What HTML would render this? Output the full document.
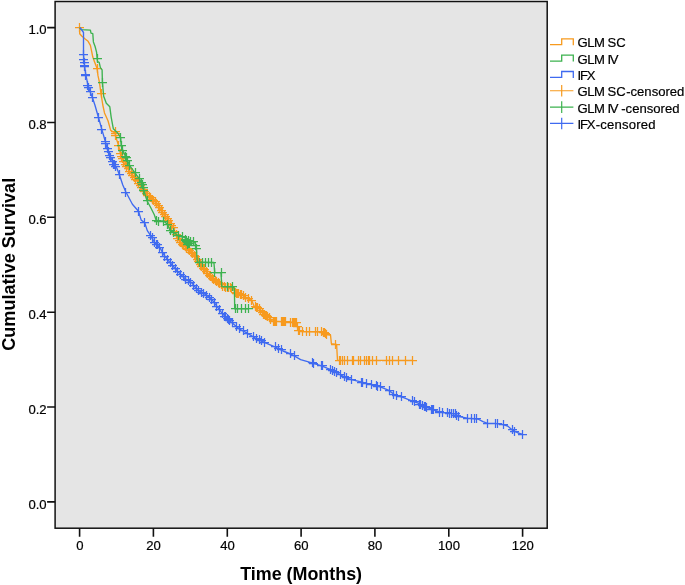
<!DOCTYPE html>
<html><head><meta charset="utf-8"><title>Kaplan-Meier</title>
<style>
html,body{margin:0;padding:0;background:#fff;}
svg{display:block;will-change:transform;}
.t{font-family:"Liberation Sans",sans-serif;font-size:13.1px;fill:#000;stroke:#000;stroke-width:0.2px;}
.b{font-family:"Liberation Sans",sans-serif;font-size:17.9px;font-weight:bold;fill:#000;}
</style></head><body>
<svg width="685" height="585" viewBox="0 0 685 585">
<rect width="685" height="585" fill="#ffffff"/>
<rect x="55.1" y="1.5" width="492.1" height="526.7" fill="#E5E5E5" stroke="#111111" stroke-width="1.5"/>
<path d="M47.1,501.9H55.1M47.1,407.0H55.1M47.1,312.2H55.1M47.1,217.3H55.1M47.1,122.5H55.1M47.1,27.6H55.1M79.6,528.2V536.7M153.4,528.2V536.7M227.3,528.2V536.7M301.1,528.2V536.7M374.9,528.2V536.7M448.8,528.2V536.7M522.6,528.2V536.7" stroke="#111111" stroke-width="1.6" fill="none"/>
<text x="46.6" y="508.5" text-anchor="end" class="t">0.0</text>
<text x="46.6" y="413.6" text-anchor="end" class="t">0.2</text>
<text x="46.6" y="318.8" text-anchor="end" class="t">0.4</text>
<text x="46.6" y="223.9" text-anchor="end" class="t">0.6</text>
<text x="46.6" y="129.1" text-anchor="end" class="t">0.8</text>
<text x="46.6" y="34.2" text-anchor="end" class="t">1.0</text>
<text x="79.8" y="550" text-anchor="middle" class="t">0</text>
<text x="153.6" y="550" text-anchor="middle" class="t">20</text>
<text x="227.5" y="550" text-anchor="middle" class="t">40</text>
<text x="301.3" y="550" text-anchor="middle" class="t">60</text>
<text x="375.1" y="550" text-anchor="middle" class="t">80</text>
<text x="449.0" y="550" text-anchor="middle" class="t">100</text>
<text x="522.8" y="550" text-anchor="middle" class="t">120</text>
<path d="M79.7,27.6 L79.7,33.7 L81.7,36.0 L85.2,39.0 L88.1,41.3 L90.4,45.4 L91.6,51.2 L92.8,57.1 L94.5,61.7 L96.3,66.4 L97.1,68.7 L98.0,75.7 L99.4,82.2 L101.0,93.7 L102.8,105.0 L104.5,112.9 L108.0,120.8 L110.7,130.4 L115.0,133.0 L116.8,140.0 L118.5,145.3 L121.2,156.7 L124.5,164.0 L130.7,172.8 L136.8,180.7 L142.9,189.4 L147.3,195.5 L154.3,200.8 L159.6,207.8 L163.9,214.8 L169.2,221.8 L173.6,228.8 L177.1,237.6 L182.3,244.6 L189.4,250.7 L195.5,256.8 L200.8,265.5 L206.1,271.7 L212.2,278.7 L218.3,282.2 L222.7,286.6 L232.3,288.3 L235.8,292.9 L242.8,294.9 L246.3,298.4 L251.5,300.1 L254.2,306.3 L259.4,308.9 L263.8,314.2 L269.0,317.7 L272.6,321.2 L290.0,322.0 L297.0,322.9 L297.9,329.9 L302.3,331.7 L323.4,332.0 L326.9,334.5 L330.5,335.0 L331.4,343.7 L336.6,344.5 L337.5,360.3 L412.0,360.3" fill="none" stroke="#F79A1E" stroke-width="1.35" stroke-linejoin="round"/>
<path d="M75.0,27.5h9.0M79.5,23.0v9.0M93.0,68.5h9.0M97.5,64.0v9.0M97.0,93.5h9.0M101.5,89.0v9.0M111.0,131.5h9.0M115.5,127.0v9.0M111.0,133.5h9.0M115.5,129.0v9.0M111.0,135.5h9.0M115.5,131.0v9.0M114.0,145.5h9.0M118.5,141.0v9.0M117.0,156.5h9.0M121.5,152.0v9.0M116.0,153.5h9.0M120.5,149.0v9.0M118.0,158.5h9.0M122.5,154.0v9.0M119.0,161.5h9.0M123.5,157.0v9.0M121.0,164.5h9.0M125.5,160.0v9.0M122.0,166.5h9.0M126.5,162.0v9.0M124.0,168.5h9.0M128.5,164.0v9.0M125.0,171.5h9.0M129.5,167.0v9.0M127.0,173.5h9.0M131.5,169.0v9.0M128.0,175.5h9.0M132.5,171.0v9.0M130.0,177.5h9.0M134.5,173.0v9.0M131.0,179.5h9.0M135.5,175.0v9.0M133.0,180.5h9.0M137.5,176.0v9.0M134.0,183.5h9.0M138.5,179.0v9.0M136.0,185.5h9.0M140.5,181.0v9.0M137.0,187.5h9.0M141.5,183.0v9.0M139.0,189.5h9.0M143.5,185.0v9.0M140.0,191.5h9.0M144.5,187.0v9.0M142.0,193.5h9.0M146.5,189.0v9.0M143.0,195.5h9.0M147.5,191.0v9.0M145.0,196.5h9.0M149.5,192.0v9.0M146.0,197.5h9.0M150.5,193.0v9.0M148.0,199.5h9.0M152.5,195.0v9.0M149.0,200.5h9.0M153.5,196.0v9.0M151.0,201.5h9.0M155.5,197.0v9.0M152.0,203.5h9.0M156.5,199.0v9.0M154.0,205.5h9.0M158.5,201.0v9.0M155.0,207.5h9.0M159.5,203.0v9.0M157.0,210.5h9.0M161.5,206.0v9.0M158.0,212.5h9.0M162.5,208.0v9.0M160.0,214.5h9.0M164.5,210.0v9.0M161.0,216.5h9.0M165.5,212.0v9.0M163.0,218.5h9.0M167.5,214.0v9.0M164.0,220.5h9.0M168.5,216.0v9.0M166.0,223.5h9.0M170.5,219.0v9.0M167.0,225.5h9.0M171.5,221.0v9.0M169.0,227.5h9.0M173.5,223.0v9.0M170.0,231.5h9.0M174.5,227.0v9.0M172.0,234.5h9.0M176.5,230.0v9.0M173.0,238.5h9.0M177.5,234.0v9.0M175.0,240.5h9.0M179.5,236.0v9.0M176.0,242.5h9.0M180.5,238.0v9.0M178.0,244.5h9.0M182.5,240.0v9.0M179.0,245.5h9.0M183.5,241.0v9.0M181.0,246.5h9.0M185.5,242.0v9.0M182.0,248.5h9.0M186.5,244.0v9.0M184.0,249.5h9.0M188.5,245.0v9.0M185.0,250.5h9.0M189.5,246.0v9.0M187.0,252.5h9.0M191.5,248.0v9.0M188.0,253.5h9.0M192.5,249.0v9.0M190.0,255.5h9.0M194.5,251.0v9.0M191.0,256.5h9.0M195.5,252.0v9.0M193.0,259.5h9.0M197.5,255.0v9.0M194.0,261.5h9.0M198.5,257.0v9.0M196.0,264.5h9.0M200.5,260.0v9.0M197.0,266.5h9.0M201.5,262.0v9.0M199.0,268.5h9.0M203.5,264.0v9.0M200.0,269.5h9.0M204.5,265.0v9.0M202.0,271.5h9.0M206.5,267.0v9.0M203.0,273.5h9.0M207.5,269.0v9.0M205.0,275.5h9.0M209.5,271.0v9.0M206.0,276.5h9.0M210.5,272.0v9.0M208.0,278.5h9.0M212.5,274.0v9.0M209.0,279.5h9.0M213.5,275.0v9.0M211.0,280.5h9.0M215.5,276.0v9.0M212.0,281.5h9.0M216.5,277.0v9.0M214.0,282.5h9.0M218.5,278.0v9.0M215.0,283.5h9.0M219.5,279.0v9.0M217.0,284.5h9.0M221.5,280.0v9.0M218.0,286.5h9.0M222.5,282.0v9.0M220.0,286.5h9.0M224.5,282.0v9.0M221.0,287.5h9.0M225.5,283.0v9.0M223.0,287.5h9.0M227.5,283.0v9.0M224.0,287.5h9.0M228.5,283.0v9.0M226.0,287.5h9.0M230.5,283.0v9.0M227.0,288.5h9.0M231.5,284.0v9.0M288.0,322.5h9.0M292.5,318.0v9.0M289.0,322.5h9.0M293.5,318.0v9.0M290.0,322.5h9.0M294.5,318.0v9.0M291.0,322.5h9.0M295.5,318.0v9.0M292.0,322.5h9.0M296.5,318.0v9.0M294.0,330.5h9.0M298.5,326.0v9.0M320.0,332.5h9.0M324.5,328.0v9.0M321.0,333.5h9.0M325.5,329.0v9.0M322.0,334.5h9.0M326.5,330.0v9.0M269.0,321.5h9.0M273.5,317.0v9.0M270.0,321.5h9.0M274.5,317.0v9.0M278.0,321.5h9.0M282.5,317.0v9.0M280.0,321.5h9.0M284.5,317.0v9.0M260.0,314.5h9.0M264.5,310.0v9.0M261.0,315.5h9.0M265.5,311.0v9.0M253.0,307.5h9.0M257.5,303.0v9.0M256.0,310.5h9.0M260.5,306.0v9.0M263.0,316.5h9.0M267.5,312.0v9.0M266.0,319.5h9.0M270.5,315.0v9.0M232.0,293.5h9.0M236.5,289.0v9.0M234.0,293.5h9.0M238.5,289.0v9.0M239.0,295.5h9.0M243.5,291.0v9.0M241.0,297.5h9.0M245.5,293.0v9.0M231.0,292.5h9.0M235.5,288.0v9.0M233.0,293.5h9.0M237.5,289.0v9.0M236.0,294.5h9.0M240.5,290.0v9.0M237.0,294.5h9.0M241.5,290.0v9.0M244.0,298.5h9.0M248.5,294.0v9.0M247.0,300.5h9.0M251.5,296.0v9.0M251.0,306.5h9.0M255.5,302.0v9.0M252.0,307.5h9.0M256.5,303.0v9.0M255.0,308.5h9.0M259.5,304.0v9.0M258.0,312.5h9.0M262.5,308.0v9.0M259.0,314.5h9.0M263.5,310.0v9.0M262.0,315.5h9.0M266.5,311.0v9.0M265.0,317.5h9.0M269.5,313.0v9.0M269.0,321.5h9.0M273.5,317.0v9.0M271.0,321.5h9.0M275.5,317.0v9.0M272.0,321.5h9.0M276.5,317.0v9.0M277.0,321.5h9.0M281.5,317.0v9.0M279.0,321.5h9.0M283.5,317.0v9.0M281.0,321.5h9.0M285.5,317.0v9.0M286.0,322.5h9.0M290.5,318.0v9.0M290.0,322.5h9.0M294.5,318.0v9.0M292.0,322.5h9.0M296.5,318.0v9.0M293.0,326.5h9.0M297.5,322.0v9.0M295.0,330.5h9.0M299.5,326.0v9.0M298.0,331.5h9.0M302.5,327.0v9.0M302.0,331.5h9.0M306.5,327.0v9.0M305.0,331.5h9.0M309.5,327.0v9.0M311.0,331.5h9.0M315.5,327.0v9.0M313.0,331.5h9.0M317.5,327.0v9.0M317.0,331.5h9.0M321.5,327.0v9.0M319.0,332.5h9.0M323.5,328.0v9.0M321.0,333.5h9.0M325.5,329.0v9.0M331.0,344.5h9.0M335.5,340.0v9.0M335.0,360.5h9.0M339.5,356.0v9.0M336.0,360.5h9.0M340.5,356.0v9.0M338.0,360.5h9.0M342.5,356.0v9.0M340.0,360.5h9.0M344.5,356.0v9.0M343.0,360.5h9.0M347.5,356.0v9.0M348.0,360.5h9.0M352.5,356.0v9.0M349.0,360.5h9.0M353.5,356.0v9.0M354.0,360.5h9.0M358.5,356.0v9.0M356.0,360.5h9.0M360.5,356.0v9.0M360.0,360.5h9.0M364.5,356.0v9.0M362.0,360.5h9.0M366.5,356.0v9.0M364.0,360.5h9.0M368.5,356.0v9.0M365.0,360.5h9.0M369.5,356.0v9.0M368.0,360.5h9.0M372.5,356.0v9.0M372.0,360.5h9.0M376.5,356.0v9.0M382.0,360.5h9.0M386.5,356.0v9.0M385.0,360.5h9.0M389.5,356.0v9.0M388.0,360.5h9.0M392.5,356.0v9.0M394.0,360.5h9.0M398.5,356.0v9.0M401.0,360.5h9.0M405.5,356.0v9.0M408.0,360.5h9.0M412.5,356.0v9.0" fill="none" stroke="#F79A1E" stroke-width="1.25"/>
<path d="M79.7,27.6 L81.1,29.6 L90.4,30.2 L91.0,33.1 L92.8,33.7 L93.4,41.9 L95.1,46.5 L96.6,52.4 L97.1,58.0 L97.5,61.7 L99.2,62.3 L100.4,67.6 L102.1,69.9 L102.4,82.3 L103.7,96.3 L106.3,103.3 L109.8,106.8 L111.2,117.3 L113.3,128.7 L117.7,133.0 L120.6,137.4 L121.2,145.3 L122.9,150.6 L125.6,156.7 L127.3,160.2 L129.9,166.0 L135.0,172.8 L139.4,178.9 L142.0,184.2 L143.8,190.3 L147.0,200.8 L150.8,207.8 L154.3,214.8 L156.1,220.1 L158.7,220.6 L163.9,221.0 L167.5,224.5 L170.1,230.6 L173.6,232.3 L178.0,235.8 L185.0,237.5 L186.8,241.9 L194.7,241.9 L196.4,248.9 L197.3,262.0 L213.9,262.5 L214.8,272.6 L221.0,272.6 L221.8,286.6 L232.3,286.9 L234.4,288.3 L234.7,308.7 L249.0,308.7" fill="none" stroke="#3DB24F" stroke-width="1.35" stroke-linejoin="round"/>
<path d="M181.0,240.5h9.0M185.5,236.0v9.0M182.0,241.5h9.0M186.5,237.0v9.0M183.0,242.5h9.0M187.5,238.0v9.0M184.0,243.5h9.0M188.5,239.0v9.0M185.0,243.5h9.0M189.5,239.0v9.0M183.0,244.5h9.0M187.5,240.0v9.0M184.0,240.5h9.0M188.5,236.0v9.0M93.0,58.5h9.0M97.5,54.0v9.0M98.0,82.5h9.0M102.5,78.0v9.0M116.0,137.5h9.0M120.5,133.0v9.0M117.0,145.5h9.0M121.5,141.0v9.0M118.0,150.5h9.0M122.5,146.0v9.0M121.0,156.5h9.0M125.5,152.0v9.0M122.0,157.5h9.0M126.5,153.0v9.0M123.0,160.5h9.0M127.5,156.0v9.0M125.0,165.5h9.0M129.5,161.0v9.0M131.0,172.5h9.0M135.5,168.0v9.0M135.0,178.5h9.0M139.5,174.0v9.0M137.0,182.5h9.0M141.5,178.0v9.0M138.0,184.5h9.0M142.5,180.0v9.0M139.0,187.5h9.0M143.5,183.0v9.0M139.0,190.5h9.0M143.5,186.0v9.0M143.0,200.5h9.0M147.5,196.0v9.0M152.0,220.5h9.0M156.5,216.0v9.0M154.0,221.5h9.0M158.5,217.0v9.0M159.0,221.5h9.0M163.5,217.0v9.0M163.0,224.5h9.0M167.5,220.0v9.0M166.0,230.5h9.0M170.5,226.0v9.0M169.0,232.5h9.0M173.5,228.0v9.0M174.0,235.5h9.0M178.5,231.0v9.0M178.0,236.5h9.0M182.5,232.0v9.0M181.0,239.5h9.0M185.5,235.0v9.0M182.0,241.5h9.0M186.5,237.0v9.0M184.0,241.5h9.0M188.5,237.0v9.0M186.0,241.5h9.0M190.5,237.0v9.0M189.0,241.5h9.0M193.5,237.0v9.0M191.0,245.5h9.0M195.5,241.0v9.0M192.0,248.5h9.0M196.5,244.0v9.0M195.0,262.5h9.0M199.5,258.0v9.0M198.0,262.5h9.0M202.5,258.0v9.0M201.0,262.5h9.0M205.5,258.0v9.0M204.0,262.5h9.0M208.5,258.0v9.0M207.0,262.5h9.0M211.5,258.0v9.0M210.0,272.5h9.0M214.5,268.0v9.0M217.0,272.5h9.0M221.5,268.0v9.0M223.0,286.5h9.0M227.5,282.0v9.0M228.0,286.5h9.0M232.5,282.0v9.0M231.0,308.5h9.0M235.5,304.0v9.0M233.0,308.5h9.0M237.5,304.0v9.0M237.0,308.5h9.0M241.5,304.0v9.0M241.0,308.5h9.0M245.5,304.0v9.0M244.0,308.5h9.0M248.5,304.0v9.0" fill="none" stroke="#3DB24F" stroke-width="1.25"/>
<path d="M79.7,27.6 L81.1,29.0 L83.5,32.5 L83.5,54.7 L84.6,66.4 L85.8,74.6 L87.5,82.8 L87.9,85.8 L88.8,87.5 L90.2,91.9 L92.3,97.2 L94.9,105.0 L98.4,117.3 L101.9,129.6 L105.4,141.8 L107.2,148.8 L109.8,155.8 L112.4,161.1 L114.2,164.6 L116.8,168.1 L119.3,174.5 L122.8,185.0 L125.9,192.0 L132.4,204.3 L138.5,211.3 L141.2,220.1 L144.7,222.7 L147.3,230.6 L150.8,235.8 L154.3,242.0 L159.6,247.2 L164.0,255.0 L171.0,263.8 L178.0,271.7 L185.0,278.7 L192.0,283.0 L197.3,290.0 L204.3,293.6 L211.3,298.8 L216.6,305.8 L221.8,312.9 L227.1,318.5 L232.3,322.9 L239.3,329.0 L246.3,332.6 L255.0,337.8 L263.8,342.2 L276.0,347.4 L283.0,351.0 L291.8,354.5 L300.6,359.7 L312.8,363.2 L321.6,365.8 L327.0,368.2 L334.0,370.8 L341.0,375.2 L346.3,377.8 L351.5,379.6 L362.0,382.2 L372.6,384.8 L379.6,386.6 L388.3,390.1 L395.3,395.3 L402.3,397.1 L411.1,400.6 L418.1,403.2 L425.3,406.8 L432.3,409.4 L439.3,412.0 L446.3,412.9 L455.0,413.8 L458.5,416.4 L467.3,418.2 L477.8,419.0 L483.0,421.7 L487.5,423.4 L495.3,423.4 L502.3,424.3 L507.6,426.0 L512.9,430.4 L518.1,433.0 L522.8,434.3" fill="none" stroke="#3F6AF0" stroke-width="1.35" stroke-linejoin="round"/>
<path d="M79.0,54.5h9.0M83.5,50.0v9.0M79.0,59.5h9.0M83.5,55.0v9.0M80.0,62.5h9.0M84.5,58.0v9.0M80.0,65.5h9.0M84.5,61.0v9.0M80.0,66.5h9.0M84.5,62.0v9.0M81.0,75.5h9.0M85.5,71.0v9.0M81.0,74.5h9.0M85.5,70.0v9.0M83.0,85.5h9.0M87.5,81.0v9.0M84.0,87.5h9.0M88.5,83.0v9.0M86.0,91.5h9.0M90.5,87.0v9.0M88.0,97.5h9.0M92.5,93.0v9.0M94.0,117.5h9.0M98.5,113.0v9.0M97.0,129.5h9.0M101.5,125.0v9.0M101.0,141.5h9.0M105.5,137.0v9.0M101.0,143.5h9.0M105.5,139.0v9.0M103.0,148.5h9.0M107.5,144.0v9.0M104.0,151.5h9.0M108.5,147.0v9.0M105.0,155.5h9.0M109.5,151.0v9.0M106.0,157.5h9.0M110.5,153.0v9.0M108.0,161.5h9.0M112.5,157.0v9.0M109.0,164.5h9.0M113.5,160.0v9.0M110.0,164.5h9.0M114.5,160.0v9.0M111.0,166.5h9.0M115.5,162.0v9.0M115.0,174.5h9.0M119.5,170.0v9.0M121.0,192.5h9.0M125.5,188.0v9.0M134.0,211.5h9.0M138.5,207.0v9.0M140.0,222.5h9.0M144.5,218.0v9.0M146.0,235.5h9.0M150.5,231.0v9.0M150.0,242.5h9.0M154.5,238.0v9.0M152.0,244.5h9.0M156.5,240.0v9.0M148.0,237.5h9.0M152.5,233.0v9.0M150.0,242.5h9.0M154.5,238.0v9.0M153.0,244.5h9.0M157.5,240.0v9.0M155.0,247.5h9.0M159.5,243.0v9.0M158.0,252.5h9.0M162.5,248.0v9.0M160.0,256.5h9.0M164.5,252.0v9.0M163.0,259.5h9.0M167.5,255.0v9.0M166.0,262.5h9.0M170.5,258.0v9.0M168.0,265.5h9.0M172.5,261.0v9.0M171.0,268.5h9.0M175.5,264.0v9.0M173.0,271.5h9.0M177.5,267.0v9.0M176.0,274.5h9.0M180.5,270.0v9.0M179.0,276.5h9.0M183.5,272.0v9.0M181.0,279.5h9.0M185.5,275.0v9.0M184.0,280.5h9.0M188.5,276.0v9.0M186.0,282.5h9.0M190.5,278.0v9.0M189.0,285.5h9.0M193.5,281.0v9.0M192.0,288.5h9.0M196.5,284.0v9.0M194.0,290.5h9.0M198.5,286.0v9.0M197.0,292.5h9.0M201.5,288.0v9.0M199.0,293.5h9.0M203.5,289.0v9.0M202.0,295.5h9.0M206.5,291.0v9.0M205.0,297.5h9.0M209.5,293.0v9.0M207.0,299.5h9.0M211.5,295.0v9.0M210.0,302.5h9.0M214.5,298.0v9.0M212.0,306.5h9.0M216.5,302.0v9.0M215.0,309.5h9.0M219.5,305.0v9.0M218.0,313.5h9.0M222.5,309.0v9.0M220.0,316.5h9.0M224.5,312.0v9.0M223.0,318.5h9.0M227.5,314.0v9.0M225.0,320.5h9.0M229.5,316.0v9.0M218.0,313.5h9.0M222.5,309.0v9.0M221.0,316.5h9.0M225.5,312.0v9.0M224.0,319.5h9.0M228.5,315.0v9.0M228.0,322.5h9.0M232.5,318.0v9.0M232.0,326.5h9.0M236.5,322.0v9.0M235.0,328.5h9.0M239.5,324.0v9.0M239.0,330.5h9.0M243.5,326.0v9.0M243.0,333.5h9.0M247.5,329.0v9.0M249.0,336.5h9.0M253.5,332.0v9.0M252.0,338.5h9.0M256.5,334.0v9.0M255.0,339.5h9.0M259.5,335.0v9.0M257.0,340.5h9.0M261.5,336.0v9.0M260.0,342.5h9.0M264.5,338.0v9.0M271.0,346.5h9.0M275.5,342.0v9.0M274.0,348.5h9.0M278.5,344.0v9.0M277.0,349.5h9.0M281.5,345.0v9.0M286.0,353.5h9.0M290.5,349.0v9.0M290.0,355.5h9.0M294.5,351.0v9.0M308.0,362.5h9.0M312.5,358.0v9.0M309.0,363.5h9.0M313.5,359.0v9.0M318.0,365.5h9.0M322.5,361.0v9.0M328.0,370.5h9.0M332.5,366.0v9.0M332.0,372.5h9.0M336.5,368.0v9.0M336.0,374.5h9.0M340.5,370.0v9.0M317.0,365.5h9.0M321.5,361.0v9.0M326.0,369.5h9.0M330.5,365.0v9.0M330.0,371.5h9.0M334.5,367.0v9.0M340.0,376.5h9.0M344.5,372.0v9.0M342.0,377.5h9.0M346.5,373.0v9.0M347.0,379.5h9.0M351.5,375.0v9.0M357.0,382.5h9.0M361.5,378.0v9.0M358.0,382.5h9.0M362.5,378.0v9.0M362.0,383.5h9.0M366.5,379.0v9.0M367.0,384.5h9.0M371.5,380.0v9.0M372.0,385.5h9.0M376.5,381.0v9.0M373.0,386.5h9.0M377.5,382.0v9.0M376.0,386.5h9.0M380.5,382.0v9.0M385.0,390.5h9.0M389.5,386.0v9.0M389.0,394.5h9.0M393.5,390.0v9.0M392.0,395.5h9.0M396.5,391.0v9.0M397.0,396.5h9.0M401.5,392.0v9.0M408.0,400.5h9.0M412.5,396.0v9.0M410.0,401.5h9.0M414.5,397.0v9.0M415.0,404.5h9.0M419.5,400.0v9.0M418.0,405.5h9.0M422.5,401.0v9.0M421.0,406.5h9.0M425.5,402.0v9.0M428.0,409.5h9.0M432.5,405.0v9.0M429.0,409.5h9.0M433.5,405.0v9.0M435.0,411.5h9.0M439.5,407.0v9.0M416.0,404.5h9.0M420.5,400.0v9.0M420.0,406.5h9.0M424.5,402.0v9.0M422.0,407.5h9.0M426.5,403.0v9.0M427.0,409.5h9.0M431.5,405.0v9.0M429.0,409.5h9.0M433.5,405.0v9.0M435.0,412.5h9.0M439.5,408.0v9.0M438.0,412.5h9.0M442.5,408.0v9.0M443.0,412.5h9.0M447.5,408.0v9.0M445.0,413.5h9.0M449.5,409.0v9.0M447.0,413.5h9.0M451.5,409.0v9.0M449.0,413.5h9.0M453.5,409.0v9.0M451.0,413.5h9.0M455.5,409.0v9.0M452.0,415.5h9.0M456.5,411.0v9.0M454.0,416.5h9.0M458.5,412.0v9.0M463.0,418.5h9.0M467.5,414.0v9.0M467.0,418.5h9.0M471.5,414.0v9.0M470.0,418.5h9.0M474.5,414.0v9.0M472.0,418.5h9.0M476.5,414.0v9.0M483.0,423.5h9.0M487.5,419.0v9.0M491.0,423.5h9.0M495.5,419.0v9.0M493.0,423.5h9.0M497.5,419.0v9.0M499.0,424.5h9.0M503.5,420.0v9.0M508.0,429.5h9.0M512.5,425.0v9.0M510.0,431.5h9.0M514.5,427.0v9.0M518.0,434.5h9.0M522.5,430.0v9.0" fill="none" stroke="#3F6AF0" stroke-width="1.25"/>
<path d="M550,44.70H561.7V38.80H573.3V45.20" fill="none" stroke="#F79A1E" stroke-width="1.3"/>
<text x="577.6" y="47.40" class="t" style="word-spacing:-0.55px"><tspan style="letter-spacing:-0.5px">GLM</tspan> SC</text>
<path d="M550,61.05H561.7V55.15H573.3V61.55" fill="none" stroke="#3DB24F" stroke-width="1.3"/>
<text x="577.6" y="63.75" class="t" style="word-spacing:-0.55px"><tspan style="letter-spacing:-0.5px">GLM</tspan> <tspan style="letter-spacing:-1.4px">I</tspan>V</text>
<path d="M550,77.40H561.7V71.50H573.3V77.90" fill="none" stroke="#3F6AF0" stroke-width="1.3"/>
<text x="577.6" y="80.10" class="t" style="word-spacing:-0.55px"><tspan style="letter-spacing:-1.3px">IF</tspan>X</text>
<path d="M550,90.75H573.4M561.7,84.95V96.55" fill="none" stroke="#F79A1E" stroke-width="1.2"/>
<text x="577.6" y="96.45" class="t" style="word-spacing:-0.55px"><tspan style="letter-spacing:-0.5px">GLM</tspan> SC<tspan dx="0.4">-censored</tspan></text>
<path d="M550,107.10H573.4M561.7,101.30V112.90" fill="none" stroke="#3DB24F" stroke-width="1.2"/>
<text x="577.6" y="112.80" class="t" style="word-spacing:-0.55px"><tspan style="letter-spacing:-0.5px">GLM</tspan> <tspan style="letter-spacing:-1.4px">I</tspan>V<tspan dx="3.4">-censored</tspan></text>
<path d="M550,123.45H573.4M561.7,117.65V129.25" fill="none" stroke="#3F6AF0" stroke-width="1.2"/>
<text x="577.6" y="129.15" class="t" style="word-spacing:-0.55px"><tspan style="letter-spacing:-1.3px">IF</tspan>X<tspan dx="0.3" style="letter-spacing:0.2px">-censored</tspan></text>
<text transform="translate(301.1,579.6) scale(1,1.05)" text-anchor="middle" class="b">Time (Months)</text>
<text transform="translate(14.6,264.3) rotate(-90) scale(1,1.05)" text-anchor="middle" class="b" style="font-size:18.1px">Cumulative Survival</text>
</svg>
</body></html>
